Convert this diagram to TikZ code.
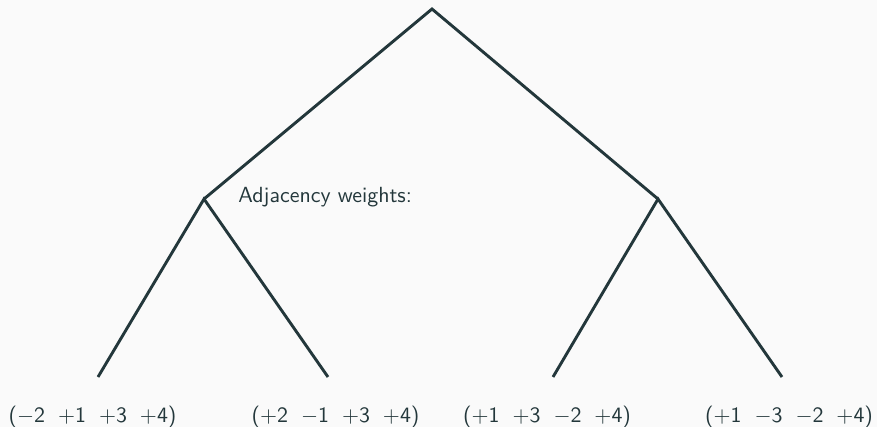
\documentclass[tikz,border=0pt]{standalone}
\definecolor{fg}{HTML}{23373B}
\definecolor{bg}{HTML}{FAFAFA}
\newcommand{\wgap}{\hspace{6.5pt}}
\newcommand{\pl}{$+$}
\newcommand{\mi}{$-$}
\tikzset{
  edge/.style={draw=fg, line width=1.45pt},
  lbl/.style={font=\fontsize{10.95}{13}\selectfont\sffamily, text=fg, inner sep=0pt, anchor=base},
}
\begin{document}
\begin{tikzpicture}[x=0.5pt,y=-0.5pt]
\fill[bg] (0,0) rectangle (877,427);
\useasboundingbox (0,0) rectangle (877,427);
\coordinate (root) at (432,9);
\coordinate (L) at (204,199);
\coordinate (R) at (658,199);
\coordinate (LL) at (98,377);
\coordinate (LR) at (328,377);
\coordinate (RL) at (553,377);
\coordinate (RR) at (782,377);
\draw[edge] (L) -- (root) -- (R);
\draw[edge] (LL) -- (L) -- (LR);
\draw[edge] (RL) -- (R) -- (RR);
\node[lbl, anchor=base west] (adj) at (238,203) {Adjacency weights:};
\node[lbl] (w1) at (92.5,422) {(\mi2\wgap\pl1\wgap\pl3\wgap\pl4)};
\node[lbl] (w2) at (335.5,422) {(\pl2\wgap\mi1\wgap\pl3\wgap\pl4)};
\node[lbl] (w3) at (547,422) {(\pl1\wgap\pl3\wgap\mi2\wgap\pl4)};
\node[lbl] (w4) at (789,422) {(\pl1\wgap\mi3\wgap\mi2\wgap\pl4)};
\end{tikzpicture}
\end{document}
